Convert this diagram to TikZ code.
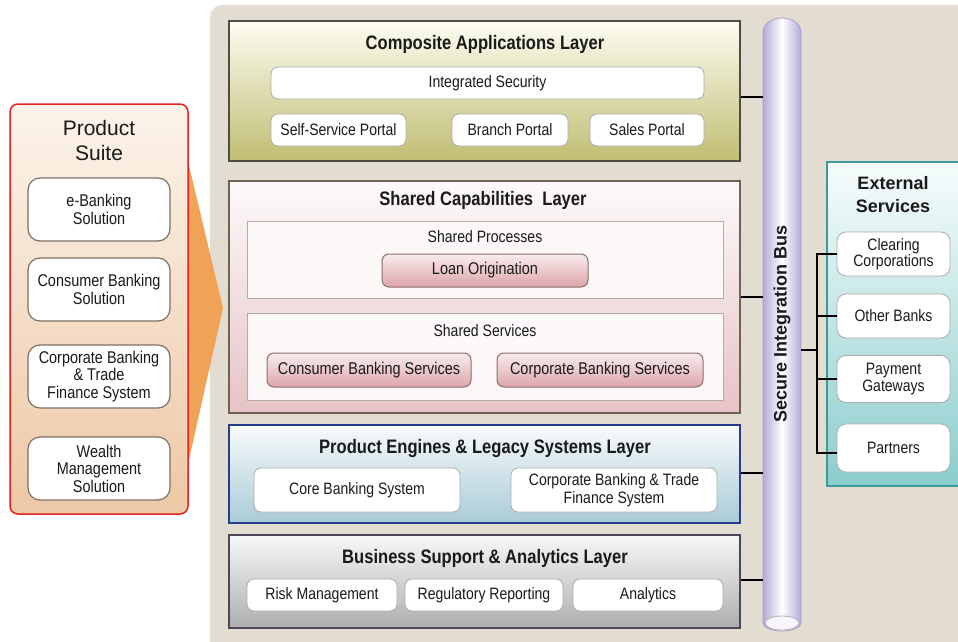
\documentclass[tikz,border=0pt]{standalone}
\usepackage{fontspec}
\setmainfont{Liberation Sans}
\newfontfamily\condf{Liberation Sans}[FakeStretch=0.85]
\definecolor{bgc}{HTML}{E3DCD1}
\definecolor{suitered}{HTML}{E0231E}
\definecolor{suitetop}{HTML}{FCF3EA}
\definecolor{suitebot}{HTML}{EDC8A5}
\definecolor{arrowc}{HTML}{F0A257}
\definecolor{boxb}{HTML}{7B7064}
\definecolor{wboxb}{HTML}{AAAAAA}
\definecolor{compb}{HTML}{4F4B45}
\definecolor{comptop}{HTML}{FDFDF2}
\definecolor{compbot}{HTML}{C0BD72}
\definecolor{shb}{HTML}{6E6254}
\definecolor{shtop}{HTML}{FDFAFA}
\definecolor{shbot}{HTML}{E6C3C6}
\definecolor{subb}{HTML}{B5AAA8}
\definecolor{subf}{HTML}{FCF8F8}
\definecolor{pinktop}{HTML}{FAEDED}
\definecolor{pinkbot}{HTML}{DCA5AA}
\definecolor{pinkb}{HTML}{8E6E6E}
\definecolor{engb}{HTML}{283C8C}
\definecolor{engtop}{HTML}{F8FBFC}
\definecolor{engbot}{HTML}{A9CBD7}
\definecolor{busb}{HTML}{4B4658}
\definecolor{bustop}{HTML}{F8F8F8}
\definecolor{busbot}{HTML}{ADADAD}
\definecolor{cylc}{HTML}{B4AAD8}
\definecolor{cylb}{HTML}{A89FCB}
\definecolor{extb}{HTML}{3C9A9C}
\definecolor{exttop}{HTML}{F7FCFC}
\definecolor{extbot}{HTML}{8CCDCD}
\definecolor{txt}{HTML}{1A1A1A}
\begin{document}
\begin{tikzpicture}[x=1pt,y=-1pt,
  every node/.style={text=txt},
  layer/.style={draw, line width=2pt, inner sep=0, minimum width=511},
  ltitle/.style={font=\condf\bfseries\fontsize{19.5}{22}\selectfont},
  wbox/.style={draw=wboxb, fill=white, rounded corners=7, line width=0.8pt, inner sep=0, font=\condf\fontsize{16.5}{18}\selectfont, align=center},
  sbox/.style={draw=boxb, fill=white, rounded corners=12, line width=1.2pt, inner sep=0, minimum width=142, minimum height=63, font=\condf\fontsize{17}{17.5}\selectfont, align=center},
  subbox/.style={draw=subb, fill=subf, line width=0.8pt, inner sep=0, minimum width=476},
  pbox/.style={draw=pinkb, top color=pinktop, bottom color=pinkbot, rounded corners=7, line width=1pt, inner sep=0, font=\condf\fontsize{17}{19}\selectfont},
  sublabel/.style={font=\condf\fontsize{16.5}{19}\selectfont},
  ebox/.style={draw=wboxb, fill=white, rounded corners=9, line width=0.8pt, inner sep=0, minimum width=113, font=\condf\fontsize{16.5}{16.5}\selectfont, align=center},
  conn/.style={draw=black, line width=2.5pt}
]
\useasboundingbox (0,0) rectangle (958,642);
\clip (0,0) rectangle (958,642);
% background panel
\fill[bgc, rounded corners=12] (210,5) rectangle (990,690);

% orange arrow
\fill[arrowc] (186,153) -- (223,308) -- (186,473) -- cycle;

% product suite
\node[draw=suitered, line width=1.5pt, rounded corners=8, top color=suitetop, bottom color=suitebot, minimum width=178, minimum height=410, inner sep=0] (suite) at (99,309) {};
\node[font=\fontsize{21}{25}\selectfont, align=center] (suitetitle) at (99,140) {Product\\Suite};
\node[sbox] (ebank) at (99,209.5) {e-Banking\\Solution};
\node[sbox] (consumer) at (99,289.5) {Consumer Banking\\Solution};
\node[sbox] (corporate) at (99,376.5) {Corporate Banking\\\& Trade\\Finance System};
\node[sbox] (wealth) at (99,468.5) {Wealth\\Management\\Solution};

% composite applications layer
\node[layer, draw=compb, top color=comptop, bottom color=compbot, minimum height=140] (comp) at (484.5,91) {};
\node[ltitle] (comptitle) at (485,44) {Composite Applications Layer};
\node[wbox, minimum width=433, minimum height=32] (intsec) at (487.5,83) {Integrated Security};
\node[wbox, minimum width=135, minimum height=32] (selfserv) at (338.5,130) {Self-Service Portal};
\node[wbox, minimum width=116, minimum height=32] (branch) at (510,130) {Branch Portal};
\node[wbox, minimum width=114, minimum height=32] (sales) at (647,130) {Sales Portal};

% shared capabilities layer
\node[layer, draw=shb, top color=shtop, bottom color=shbot, minimum height=232] (shared) at (484.5,297) {};
\node[ltitle] (sharedtitle) at (483,200) {Shared Capabilities\ \ Layer};
\node[subbox, minimum height=77] (procs) at (485,259.5) {};
\node[sublabel] (procslabel) at (485,237) {Shared Processes};
\node[pbox, minimum width=206, minimum height=33] (loan) at (485,270.5) {Loan Origination};
\node[subbox, minimum height=87] (servs) at (485,356.5) {};
\node[sublabel] (servslabel) at (485,331) {Shared Services};
\node[pbox, minimum width=204, minimum height=34] (cbs) at (369,370) {Consumer Banking Services};
\node[pbox, minimum width=206, minimum height=34] (corpbs) at (600,370) {Corporate Banking Services};

% product engines layer
\node[layer, draw=engb, top color=engtop, bottom color=engbot, minimum height=98] (engines) at (484.5,474) {};
\node[ltitle] (enginestitle) at (485,448) {Product Engines \& Legacy Systems Layer};
\node[wbox, minimum width=206, minimum height=44] (core) at (357,490) {Core Banking System};
\node[wbox, minimum width=206, minimum height=44] (corptrade) at (614,490) {Corporate Banking \& Trade\\Finance System};

% business support layer
\node[layer, draw=busb, top color=bustop, bottom color=busbot, minimum height=93] (business) at (484.5,581.5) {};
\node[ltitle] (businesstitle) at (485,558) {Business Support \& Analytics Layer};
\node[wbox, minimum width=150, minimum height=32] (risk) at (322,595) {Risk Management};
\node[wbox, minimum width=158, minimum height=32] (regrep) at (484,595) {Regulatory Reporting};
\node[wbox, minimum width=150, minimum height=32] (analytics) at (648,595) {Analytics};

% secure integration bus (cylinder)
\draw[cylb, line width=0.8pt, left color=cylc, right color=cylc, middle color=white]
  (763,32) arc (180:360:19 and 14) -- (801,623) arc (0:180:19 and 8) -- cycle;
\draw[gray!60, line width=0.8pt, fill=white!90!cylc] (782,623) ellipse (17 and 7);
\node[minimum width=38, minimum height=600, inner sep=0] (bus) at (782,325) {};
\node[rotate=90, font=\bfseries\fontsize{18}{20}\selectfont] (buslabel) at (782,324) {Secure Integration Bus};

% layer connectors
\draw[conn] ([yshift=-6pt]comp.east) -- ([yshift=-6pt]comp.east -| bus.west);
\draw[conn] (shared.east) -- (shared.east -| bus.west);
\draw[conn] ([yshift=1pt]engines.east) -- ([yshift=1pt]engines.east -| bus.west);
\draw[conn] ([yshift=1.5pt]business.east) -- ([yshift=1.5pt]business.east -| bus.west);

% external services
\node[draw=extb, line width=2pt, top color=exttop, bottom color=extbot, minimum width=150, minimum height=324, inner sep=0] (ext) at (902,324) {};
\node[font=\bfseries\fontsize{18}{23}\selectfont, align=center] (exttitle) at (893,195) {External\\Services};
\node[ebox, minimum height=44] (clear) at (893.5,254) {Clearing\\Corporations};
\node[ebox, minimum height=44] (other) at (893.5,316) {Other Banks};
\node[ebox, minimum height=47] (pay) at (893.5,379) {Payment\\Gateways};
\node[ebox, minimum height=48] (partners) at (893.5,448) {Partners};

\coordinate (hub) at (817,350);
\draw[conn] (hub -| bus.east) -- (hub);
\draw[conn] (clear.west) -| (hub);
\draw[conn] ([yshift=-5pt]partners.west) -| (hub);
\draw[conn] (other.west) -- (other.west -| hub);
\draw[conn] (pay.west) -- (pay.west -| hub);
\end{tikzpicture}
\end{document}
